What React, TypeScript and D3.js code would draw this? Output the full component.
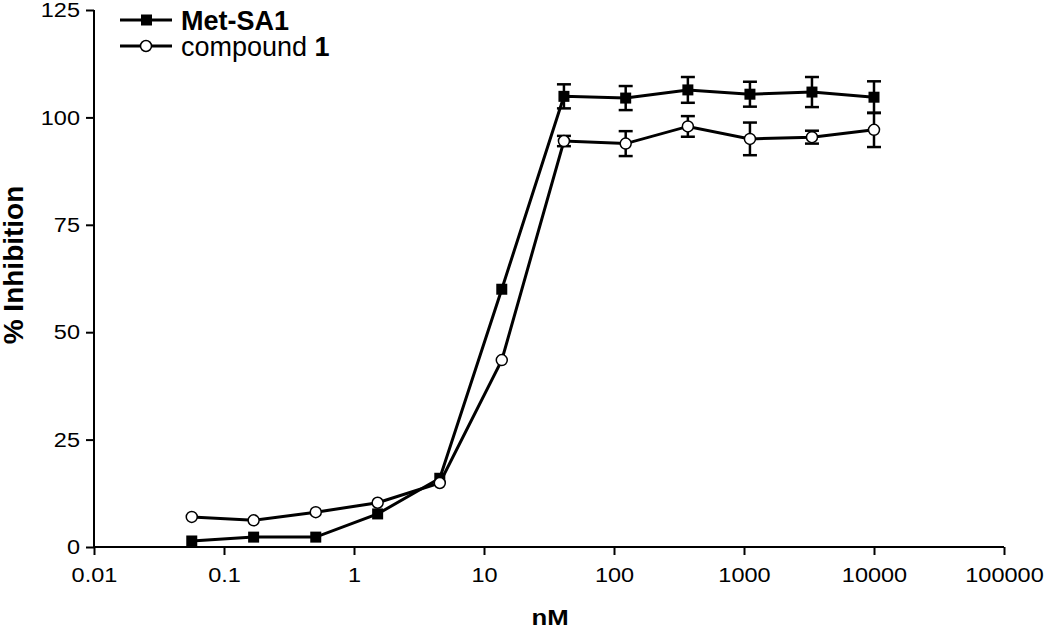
import React, { useEffect, useRef } from 'react'
import * as d3 from 'd3'

// concentrations (nM), 3-fold dilution series
const conc = [0.0565, 0.169, 0.508, 1.52, 4.57, 13.7, 41.2, 123, 370, 1111, 3333, 10000]
const metMean = [1.4, 2.3, 2.3, 7.7, 16, 60, 104.9, 104.5, 106.4, 105.4, 105.9, 104.7]
const metErr = [0, 0, 0, 0, 0, 0, 2.8, 2.8, 3, 2.9, 3.5, 3.7]
const cmpMean = [7.0, 6.2, 8.1, 10.3, 14.9, 43.5, 94.5, 93.9, 97.9, 95, 95.4, 97.1]
const cmpErr = [0, 0, 0, 0, 0, 0, 1.2, 2.9, 2.4, 3.8, 1.5, 4]
const xTicks = [0.01, 0.1, 1, 10, 100, 1000, 10000, 100000]
const yTicks = [0, 25, 50, 75, 100, 125]

export default function App() {
  const ref = useRef<SVGSVGElement>(null)
  useEffect(() => {
    const W = 1050, H = 628
    const svg = d3.select(ref.current).attr('width', W).attr('height', H)
    svg.selectAll('*').remove()
    const x = d3.scaleLog().domain([0.01, 100000]).range([94, 1004])
    const y = d3.scaleLinear().domain([0, 125]).range([547, 10])
    const font = 'Arial, "Liberation Sans", sans-serif'
    const sx = 1.12 // the picture's text is a little wide

    const gx = svg.append('g').attr('transform', `translate(0,${y(0)})`)
      .call(d3.axisBottom(x).tickValues(xTicks).tickFormat(d => String(d)).tickSize(8).tickPadding(12))
    const gy = svg.append('g').attr('transform', `translate(${x(0.01)},0)`)
      .call(d3.axisLeft(y).tickValues(yTicks).tickSize(8).tickPadding(6))
    for (const g of [gx, gy]) {
      g.selectAll('path,line').attr('stroke', '#000').attr('stroke-width', 2)
      g.selectAll('text').attr('fill', '#000').style('font-family', font).style('font-size', '21px')
        .attr('transform', `scale(${sx},1)`)
    }
    gy.selectAll('text').attr('x', -14 / sx)
    gx.select('.domain').attr('d', `M${x(0.01)},0H${x(100000)}`)
    gy.select('.domain').attr('d', `M0,${y(0)}V${y(125)}`)

    svg.append('text').attr('transform', `translate(550,625) scale(${sx},1)`).attr('text-anchor', 'middle')
      .style('font-family', font).style('font-size', '23px').style('font-weight', 'bold').text('nM')
    svg.append('text').attr('transform', `translate(23,265) rotate(-90)`).attr('text-anchor', 'middle')
      .style('font-family', font).style('font-size', '28px').style('font-weight', 'bold').text('% Inhibition')

    const series = [
      { mean: metMean, err: metErr, shape: 'square' },
      { mean: cmpMean, err: cmpErr, shape: 'circle' },
    ]
    const line = d3.line<number>().x((_, i) => x(conc[i])).y(d => y(d))
    for (const s of series) {
      const g = svg.append('g')
      // error bars
      s.err.forEach((e, i) => {
        if (!e) return
        const cx = x(conc[i]), y1 = y(s.mean[i] + e), y2 = y(s.mean[i] - e)
        g.append('line').attr('x1', cx).attr('x2', cx).attr('y1', y1).attr('y2', y2).attr('stroke', '#000').attr('stroke-width', 2.5)
        for (const yy of [y1, y2])
          g.append('line').attr('x1', cx - 7).attr('x2', cx + 7).attr('y1', yy).attr('y2', yy).attr('stroke', '#000').attr('stroke-width', 2.5)
      })
      g.append('path').datum(s.mean).attr('d', line).attr('fill', 'none').attr('stroke', '#000').attr('stroke-width', 3)
      s.mean.forEach((v, i) => {
        const cx = x(conc[i]), cy = y(v)
        if (s.shape === 'square') g.append('rect').attr('x', cx - 5.5).attr('y', cy - 5.5).attr('width', 11).attr('height', 11).attr('fill', '#000')
        else g.append('circle').attr('cx', cx).attr('cy', cy).attr('r', 5.5).attr('fill', '#fff').attr('stroke', '#000').attr('stroke-width', 1.5)
      })
    }

    // legend
    const leg = svg.append('g')
    const rows = [{ label: 'Met-SA1', shape: 'square', y: 20 }, { label: 'compound ', bold: '1', shape: 'circle', y: 46 }]
    for (const r of rows) {
      leg.append('line').attr('x1', 120).attr('x2', 172).attr('y1', r.y).attr('y2', r.y).attr('stroke', '#000').attr('stroke-width', 3)
      if (r.shape === 'square') leg.append('rect').attr('x', 141).attr('y', r.y - 5.5).attr('width', 11).attr('height', 11).attr('fill', '#000')
      else leg.append('circle').attr('cx', 146).attr('cy', r.y).attr('r', 5.5).attr('fill', '#fff').attr('stroke', '#000').attr('stroke-width', 1.5)
      const t = leg.append('text').attr('x', 181).attr('y', r.y + 10).style('font-family', font).style('font-size', '27px')
      if (r.bold === undefined) t.style('font-weight', 'bold').text(r.label)
      else {
        t.append('tspan').text(r.label)
        t.append('tspan').style('font-weight', 'bold').text(r.bold)
      }
    }
  }, [])
  return <svg ref={ref} style={{ position: 'absolute', left: 0, top: 0 }} />
}
